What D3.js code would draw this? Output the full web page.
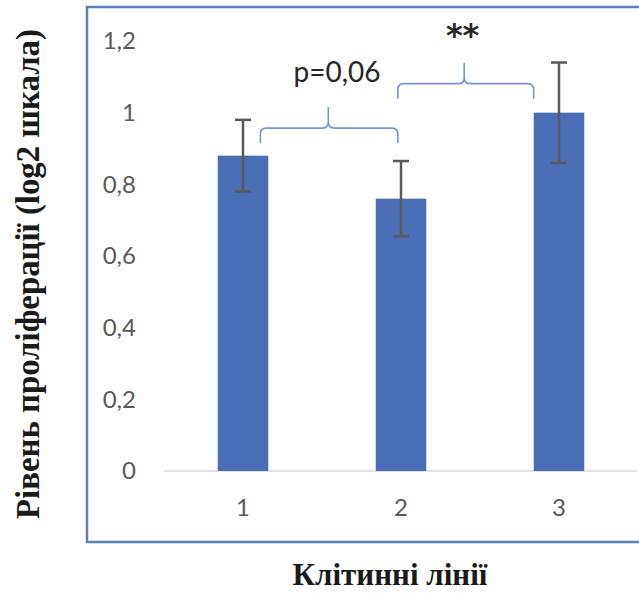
<!DOCTYPE html>
<html>
<head>
<meta charset="utf-8">
<script src="https://cdn.jsdelivr.net/npm/d3@7"></script>
<style>
  html, body { margin: 0; padding: 0; background: #fff; }
  svg { display: block; }
</style>
</head>
<body>
<script>
// Cell lines and mean proliferation (log2 scale) with error margins
const categories = ["1", "2", "3"];
const values = [0.88, 0.76, 1.0];
const errors = [0.10, 0.105, 0.14];
const yTicks = [0, 0.2, 0.4, 0.6, 0.8, 1, 1.2];
const yTickLabels = ["0", "0,2", "0,4", "0,6", "0,8", "1", "1,2"];

// Significance brackets: ends and tip given in category units, heights in y units
const bracketFrom = [1.11, 1.98];
const bracketTo = [1.98, 2.84];
const bracketTip = [1.54, 2.40];
const bracketLevel = [0.957, 1.081];
const bracketLabels = ["p=0,06", "**"];
const labelPos = [1.595, 2.39];
const labelLevel = [1.085, 1.187];

const W = 639, H = 593;
const svg = d3.select("body").append("svg").attr("width", W).attr("height", H);

// Chart frame
svg.append("rect")
  .attr("x", 87).attr("y", 7).attr("width", 600).attr("height", 535)
  .attr("fill", "none").attr("stroke", "#5b7fc4").attr("stroke-width", 2.5);

const x = d3.scaleBand().domain(categories).range([164, 638])
  .paddingInner(0.68).paddingOuter(0.34);
const y = d3.scaleLinear().domain([0, 1.2]).range([471, 41]);
const xc = d3.scaleLinear().domain([1, 3])
  .range([x("1") + x.bandwidth() / 2, x("3") + x.bandwidth() / 2]);

// Y axis labels
const yAxis = d3.axisLeft(y).tickValues(yTicks)
  .tickFormat((d, i) => yTickLabels[i]).tickSize(0).tickPadding(0);
const gy = svg.append("g").attr("transform", "translate(136,0)").call(yAxis);
gy.select(".domain").remove();
gy.selectAll("text").attr("font-family", "Lato, 'Open Sans', sans-serif")
  .attr("font-size", 24).attr("fill", "#595959");

// Baseline
svg.append("line")
  .attr("x1", 164).attr("x2", 637).attr("y1", y(0)).attr("y2", y(0))
  .attr("stroke", "#d9d9d9").attr("stroke-width", 1.5);

// X axis labels
const xAxis = d3.axisBottom(x).tickSize(0).tickPadding(0);
const gx = svg.append("g").attr("transform", "translate(0,499)").call(xAxis);
gx.select(".domain").remove();
gx.selectAll("text").attr("font-family", "Lato, 'Open Sans', sans-serif")
  .attr("font-size", 24).attr("fill", "#595959");

// Bars
svg.append("g").selectAll("rect").data(values).join("rect")
  .attr("x", (d, i) => x(categories[i]))
  .attr("width", x.bandwidth())
  .attr("y", d => y(d))
  .attr("height", d => y(0) - y(d))
  .attr("fill", "#4a6eb6");

// Error bars
const eb = svg.append("g").attr("stroke", "#595959").attr("stroke-width", 2.5);
values.forEach((v, i) => {
  const cx = x(categories[i]) + x.bandwidth() / 2;
  const top = y(v + errors[i]), bot = y(v - errors[i]);
  eb.append("line").attr("x1", cx).attr("x2", cx).attr("y1", top).attr("y2", bot);
  eb.append("line").attr("x1", cx - 8).attr("x2", cx + 8).attr("y1", top).attr("y2", top);
  eb.append("line").attr("x1", cx - 8).attr("x2", cx + 8).attr("y1", bot).attr("y2", bot);
});

// Curly brackets
const r = 6;
bracketFrom.forEach((f, i) => {
  const xl = xc(f), xr = xc(bracketTo[i]), m = xc(bracketTip[i]);
  const h = y(bracketLevel[i]);
  const drop = 15, rise = 21;
  const p = d3.path();
  p.moveTo(xl, h + drop);
  p.lineTo(xl, h + r);
  p.quadraticCurveTo(xl, h, xl + r, h);
  p.lineTo(m - r, h);
  p.quadraticCurveTo(m, h, m, h - r);
  p.lineTo(m, h - rise);
  p.moveTo(m, h - r);
  p.quadraticCurveTo(m, h, m + r, h);
  p.lineTo(xr - r, h);
  p.quadraticCurveTo(xr, h, xr, h + r);
  p.lineTo(xr, h + drop);
  svg.append("path").attr("d", p.toString())
    .attr("fill", "none").attr("stroke", "#7196d6").attr("stroke-width", 1.6);
});

// Bracket labels
svg.append("text")
  .attr("x", xc(labelPos[0])).attr("y", y(labelLevel[0]))
  .attr("text-anchor", "middle")
  .attr("font-family", "Lato, 'Open Sans', sans-serif").attr("font-size", 28)
  .attr("fill", "#262626").text(bracketLabels[0]);
svg.append("text")
  .attr("x", xc(labelPos[1])).attr("y", y(labelLevel[1]))
  .attr("text-anchor", "middle")
  .attr("font-family", "'DejaVu Sans', sans-serif").attr("font-size", 32)
  .attr("font-weight", "bold")
  .attr("fill", "#262626").text(bracketLabels[1]);

// Axis titles: font size fitted so the text spans the wanted length
function fitText(sel, target) {
  const base = +sel.attr("font-size");
  const len = sel.node().getComputedTextLength();
  sel.attr("font-size", base * target / len);
}

const yTitle = svg.append("text")
  .attr("transform", "translate(39,274) rotate(-90)")
  .attr("text-anchor", "middle")
  .attr("font-family", "'Liberation Serif', 'DejaVu Serif', serif")
  .attr("font-weight", "bold").attr("font-size", 32)
  .attr("fill", "#1a1a1a")
  .text("Рівень проліферації (log2 шкала)");
fitText(yTitle, 490);

const xTitle = svg.append("text")
  .attr("x", 390).attr("y", 585)
  .attr("text-anchor", "middle")
  .attr("font-family", "'Liberation Serif', 'DejaVu Serif', serif")
  .attr("font-weight", "bold").attr("font-size", 29)
  .attr("fill", "#1a1a1a")
  .text("Клітинні лінії");
fitText(xTitle, 195);
</script>
</body>
</html>
